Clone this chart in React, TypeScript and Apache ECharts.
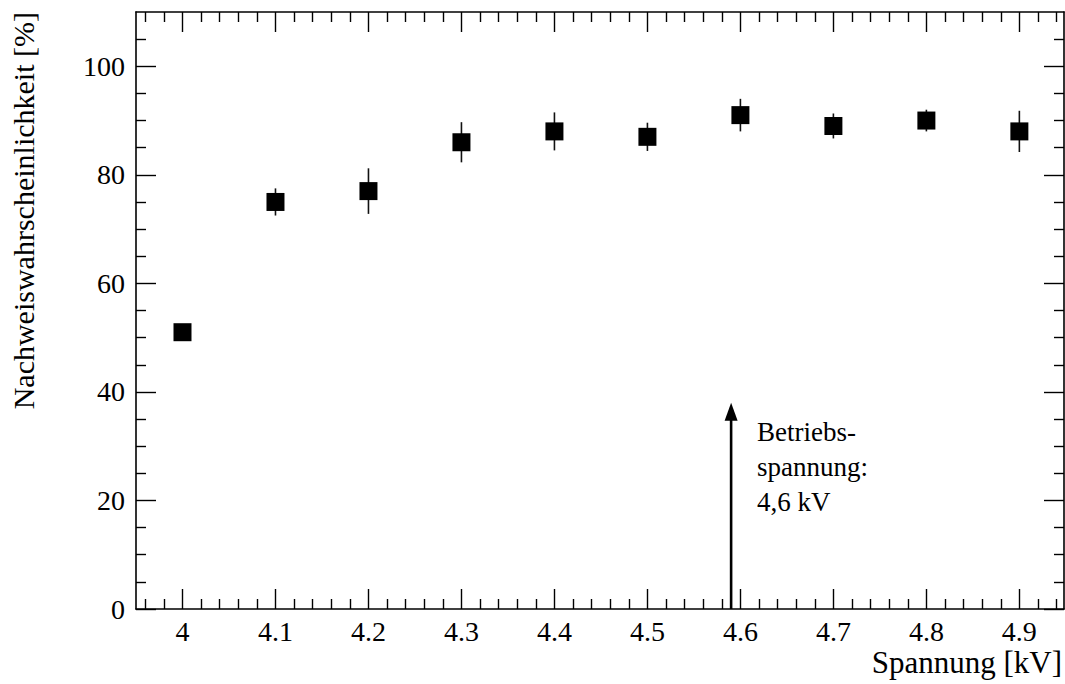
import React, { useEffect, useRef } from "react";
import * as echarts from "echarts";

// ---- data ----
const voltages = [4.0, 4.1, 4.2, 4.3, 4.4, 4.5, 4.6, 4.7, 4.8, 4.9];
const efficiency = [51, 75, 77, 86, 88, 87, 91, 89, 90, 88];
const efficiencyErr = [1.0, 2.5, 4.2, 3.7, 3.5, 2.6, 3.0, 2.3, 2.0, 3.8];

const xMajorTicks = [4.0, 4.1, 4.2, 4.3, 4.4, 4.5, 4.6, 4.7, 4.8, 4.9];
const yMajorTicks = [0, 20, 40, 60, 80, 100];
const yMinorTicks = [5, 10, 15, 25, 30, 35, 45, 50, 55, 65, 70, 75, 85, 90, 95, 105];

const arrowVoltage = 4.59;
const arrowTip = 38;
const annotationLines = ["Betriebs-", "spannung:", "4,6 kV"];

const xTitle = "Spannung [kV]";
const yTitle = "Nachweiswahrscheinlichkeit [%]";

const X_MIN = 3.95;
const X_MAX = 4.948;
const Y_MIN = 0;
const Y_MAX = 110;

const xMinorTicks: number[] = [];
for (let i = 0; i <= 50; i++) {
  const v = Math.round((X_MIN + 0.01 + i * 0.02) * 100) / 100;
  if (v > X_MAX) break;
  if (Math.abs(v * 10 - Math.round(v * 10)) > 1e-6) xMinorTicks.push(v);
}

const FONT = "Liberation Serif";

export default function App() {
  const ref = useRef<HTMLDivElement>(null);
  useEffect(() => {
    if (!ref.current) return;
    const chart = echarts.init(ref.current, undefined, { renderer: "svg" });

    const lineStyle = { color: "#000", width: 1.6 };
    const tickStyle = { color: "#000", width: 1.4 };

    const mkX = (pos: "bottom" | "top", ticks: number[], len: number, showLine: boolean, labels: boolean) => ({
      type: "value",
      position: pos,
      min: X_MIN,
      max: X_MAX,
      axisLine: { show: showLine, onZero: false, lineStyle },
      axisTick: { show: true, inside: true, length: len, customValues: ticks, lineStyle: tickStyle },
      axisLabel: labels
        ? {
            show: true,
            customValues: xMajorTicks,
            fontSize: 28,
            fontFamily: FONT,
            color: "#000",
            margin: 8,
            formatter: (v: number) => String(Math.round(v * 10) / 10),
          }
        : { show: false },
      splitLine: { show: false },
    });
    const mkY = (pos: "left" | "right", ticks: number[], len: number, showLine: boolean, labels: boolean) => ({
      type: "value",
      position: pos,
      min: Y_MIN,
      max: Y_MAX,
      axisLine: { show: showLine, onZero: false, lineStyle },
      axisTick: { show: true, inside: true, length: len, customValues: ticks, lineStyle: tickStyle },
      axisLabel: labels
        ? {
            show: true,
            customValues: yMajorTicks,
            fontSize: 28,
            fontFamily: FONT,
            color: "#000",
            margin: 11,
          }
        : { show: false },
      splitLine: { show: false },
    });

    const points = voltages.map((v, i) => [v, efficiency[i]]);
    const errData = voltages.map((v, i) => [v, efficiency[i], efficiencyErr[i]]);

    chart.setOption({
      animation: false,
      backgroundColor: "#fff",
      grid: { left: 136, right: 1, top: 12, bottom: 75, containLabel: false },
      xAxis: [
        mkX("bottom", xMajorTicks, 20, true, true),
        mkX("bottom", xMinorTicks, 10, false, false),
        mkX("top", xMajorTicks, 20, true, false),
        mkX("top", xMinorTicks, 10, false, false),
      ],
      yAxis: [
        mkY("left", yMajorTicks, 20, true, true),
        mkY("left", yMinorTicks, 10, false, false),
        mkY("right", yMajorTicks, 20, true, false),
        mkY("right", yMinorTicks, 10, false, false),
      ],
      graphic: [
        {
          type: "text",
          right: 3,
          bottom: 6,
          style: { text: xTitle, fontSize: 31, fontFamily: FONT, fill: "#000" },
        },
        {
          type: "text",
          x: 38,
          y: 12,
          rotation: Math.PI / 2,
          style: {
            text: yTitle,
            fontSize: 30,
            fontFamily: FONT,
            fill: "#000",
            align: "right",
            verticalAlign: "bottom",
          },
        },
      ],
      series: [
        {
          type: "custom",
          name: "errors",
          xAxisIndex: 0,
          yAxisIndex: 0,
          z: 2,
          data: errData,
          renderItem: (params: any, api: any) => {
            const x = api.value(0);
            const y = api.value(1);
            const e = api.value(2);
            const hi = api.coord([x, y + e]);
            const lo = api.coord([x, y - e]);
            return {
              type: "line",
              shape: { x1: hi[0], y1: hi[1], x2: lo[0], y2: lo[1] },
              style: { stroke: "#111", lineWidth: 1.6 },
            };
          },
        },
        {
          type: "scatter",
          name: "Nachweiswahrscheinlichkeit",
          xAxisIndex: 0,
          yAxisIndex: 0,
          z: 3,
          symbol: "rect",
          symbolSize: 18,
          itemStyle: { color: "#000", opacity: 1 },
          data: points,
        },
        {
          type: "custom",
          name: "arrow",
          xAxisIndex: 0,
          yAxisIndex: 0,
          z: 4,
          clip: false,
          data: [[arrowVoltage, arrowTip]],
          renderItem: (params: any, api: any) => {
            const x = api.value(0);
            const t = api.value(1);
            const tip = api.coord([x, t]);
            const base = api.coord([x, Y_MIN]);
            const headLen = 18;
            const headHalf = 6.5;
            return {
              type: "group",
              children: [
                {
                  type: "line",
                  shape: { x1: base[0], y1: base[1], x2: tip[0], y2: tip[1] + headLen - 1 },
                  style: { stroke: "#000", lineWidth: 2.6 },
                },
                {
                  type: "polygon",
                  shape: {
                    points: [
                      [tip[0], tip[1]],
                      [tip[0] - headHalf, tip[1] + headLen],
                      [tip[0] + headHalf, tip[1] + headLen],
                    ],
                  },
                  style: { fill: "#000" },
                },
                {
                  type: "text",
                  x: tip[0] + 26,
                  y: tip[1] + 12,
                  style: {
                    text: annotationLines.join("\n"),
                    fontSize: 27,
                    fontFamily: FONT,
                    lineHeight: 35,
                    fill: "#000",
                    align: "left",
                    verticalAlign: "top",
                  },
                },
              ],
            };
          },
        },
      ],
    });
    return () => chart.dispose();
  }, []);

  return (
    <div
      ref={ref}
      style={{ position: "fixed", left: 0, top: 0, width: 1065, height: 684, background: "#fff" }}
    />
  );
}
